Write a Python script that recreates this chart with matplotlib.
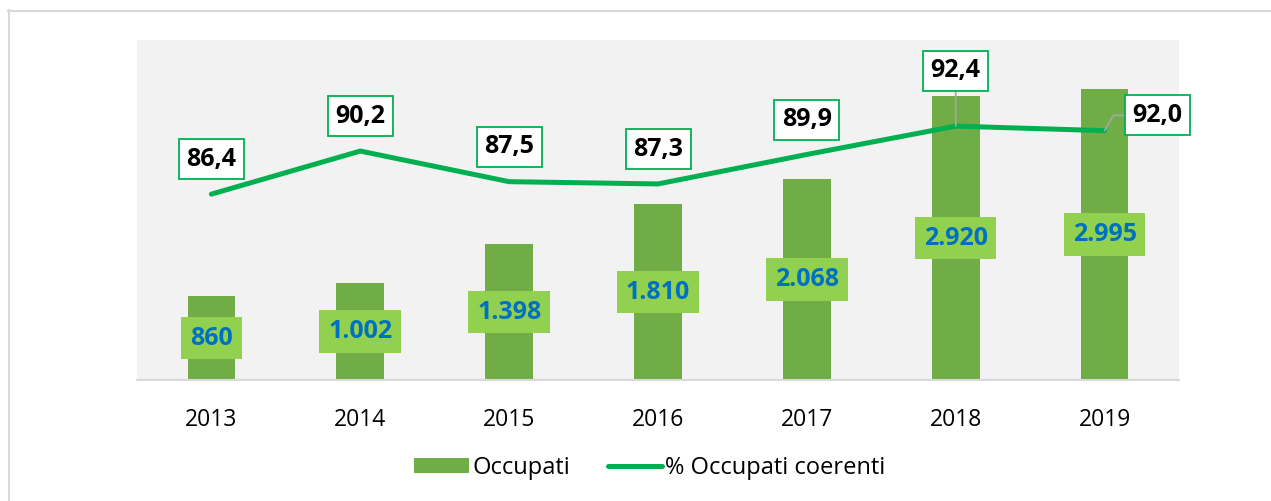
import matplotlib.pyplot as plt
from matplotlib.lines import Line2D
from matplotlib.patches import Patch

plt.rcParams['font.family'] = ['Open Sans', 'DejaVu Sans']

# data
anni = ['2013', '2014', '2015', '2016', '2017', '2018', '2019']
occupati = [860, 1002, 1398, 1810, 2068, 2920, 2995]
occupati_label = ['860', '1.002', '1.398', '1.810', '2.068', '2.920', '2.995']
perc_coerenti = [86.4, 90.2, 87.5, 87.3, 89.9, 92.4, 92.0]
perc_label = ['86,4', '90,2', '87,5', '87,3', '89,9', '92,4', '92,0']

bar_color = '#70AD47'
line_color = '#00B050'
box_color = '#92D050'
blue_text = '#0070C0'

fig = plt.figure(figsize=(12.71, 5.01), dpi=100)
ax = fig.add_axes([137 / 1271, 1 - 380 / 501, 1042 / 1271, 340 / 501])
ax.set_facecolor('#F2F2F2')

x = list(range(len(anni)))
ax.bar(x, occupati, width=0.32, color=bar_color, zorder=2)
ax.set_xlim(-0.5, 6.5)
ax.set_ylim(0, 3500)
ax.set_yticks([])
ax.set_xticks(x)
ax.set_xticklabels(anni, fontsize=16.5)
ax.tick_params(axis='x', length=0, pad=20)
for s in ['top', 'left', 'right']:
    ax.spines[s].set_visible(False)
ax.spines['bottom'].set_color('#D9D9D9')
ax.spines['bottom'].set_linewidth(1.5)

# bar labels, centred in the bar
for xi, v, lab in zip(x, occupati, occupati_label):
    ax.text(xi, v / 2, lab, ha='center', va='center', fontsize=18, fontweight='bold',
            color=blue_text, zorder=4,
            bbox=dict(boxstyle='square,pad=0.35', fc=box_color, ec='none'))

ax2 = ax.twinx()
ax2.set_ylim(70, 100)
ax2.set_yticks([])
for s in ax2.spines.values():
    s.set_visible(False)
ax2.plot(x, perc_coerenti, color=line_color, lw=3.6, solid_capstyle='round', zorder=3)

# label offsets in points (text centre relative to the point)
offsets = [(0, 25), (0, 25), (0, 25), (0, 25), (0, 25), (0, 40), (38, 11)]
for i, (xi, v, lab) in enumerate(zip(x, perc_coerenti, perc_label)):
    dx, dy = offsets[i]
    arrow = None
    if i == 5:
        arrow = dict(arrowstyle='-', color='#A6A6A6', lw=1.2, shrinkA=0, shrinkB=0)
    elif i == 6:
        arrow = dict(arrowstyle='-', color='#A6A6A6', lw=1.2, shrinkA=0, shrinkB=0,
                     connectionstyle='angle,angleA=180,angleB=60,rad=0')
    ax2.annotate(lab, (xi, v), xytext=(dx, dy), textcoords='offset points',
                 ha='center', va='center', fontsize=18, fontweight='bold', color='black',
                 bbox=dict(boxstyle='square,pad=0.3', fc='white', ec=line_color, lw=1.3),
                 arrowprops=arrow, zorder=5, annotation_clip=False)

handles = [Patch(facecolor=bar_color, edgecolor='none', label='Occupati'),
           Line2D([0], [0], color=line_color, lw=3.6, solid_capstyle='round',
                  label='% Occupati coerenti')]
fig.legend(handles=handles, loc='center', bbox_to_anchor=(650 / 1271, 1 - 468 / 501),
           ncol=2, frameon=False, fontsize=17, handlelength=2.3, handleheight=0.6,
           handletextpad=0.15, columnspacing=1.6)

# outer frame of the chart area
fig.add_artist(Line2D([8.5 / 1271, 8.5 / 1271], [1 - 10 / 501, 0], color='#D9D9D9', lw=1.5))
fig.add_artist(Line2D([8 / 1271, 1], [1 - 10.5 / 501, 1 - 10.5 / 501], color='#D9D9D9', lw=1.5))

fig.savefig('out.png', dpi=100, facecolor='white')
